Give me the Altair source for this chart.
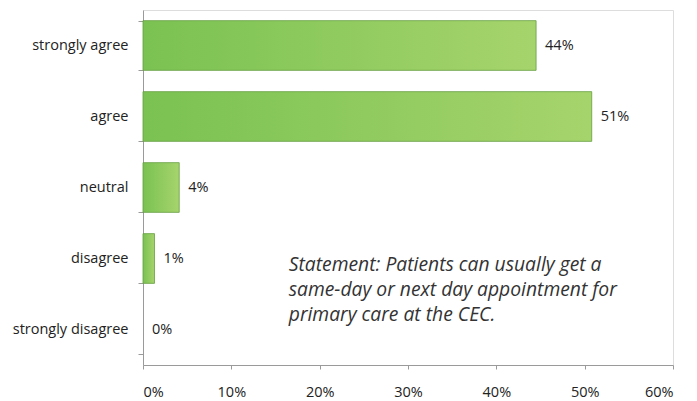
import altair as alt
import pandas as pd

categories = ["strongly agree", "agree", "neutral", "disagree", "strongly disagree"]
values = [44.5, 50.8, 4.1, 1.3, 0.0]
labels = ["44%", "51%", "4%", "1%", "0%"]
tick_values = [0, 10, 20, 30, 40, 50, 60]
statement = ["Statement: Patients can usually get a",
             "same-day or next day appointment for",
             "primary care at the CEC."]

df = pd.DataFrame({"cat": categories, "val": values, "lab": labels})
note_df = pd.DataFrame({"x": [16.5], "t": [statement]})

FONT = "Open Sans"

x_scale = alt.Scale(domain=[0, 60], nice=False, zero=True)
y_scale = alt.Scale(domain=categories, paddingInner=0.3, paddingOuter=0.15)

grad = alt.Gradient(
    gradient="linear",
    x1=0, x2=1, y1=0, y2=0,
    stops=[alt.GradientStop(color="#7ac252", offset=0),
           alt.GradientStop(color="#a6d46c", offset=1)],
)

base = alt.Chart(df)

bars = base.mark_bar(color=grad, stroke="#639e3e", strokeWidth=0.8).encode(
    x=alt.X("val:Q", scale=x_scale,
            axis=alt.Axis(values=tick_values, labelExpr="datum.value + '%'",
                          title=None, grid=False, domainColor="#9a9a9a",
                          tickColor="#9a9a9a", tickSize=4, labelPadding=16,
                          labelFont=FONT, labelFontSize=14.5, labelColor="#222222")),
    y=alt.Y("cat:N", scale=y_scale, sort=categories,
            axis=alt.Axis(title=None, grid=False, domainColor="#9a9a9a",
                          tickColor="#9a9a9a", tickSize=5, tickBand="extent",
                          labelPadding=10, labelFont=FONT, labelFontSize=14.5,
                          labelColor="#222222")),
).transform_filter(alt.datum.val > 0)

text = base.mark_text(align="left", dx=9, font=FONT, fontSize=14.5, color="#222222").encode(
    x=alt.X("val:Q", scale=x_scale),
    y=alt.Y("cat:N", scale=y_scale, sort=categories),
    text="lab:N",
)

note = alt.Chart(note_df).mark_text(
    align="left", baseline="alphabetic", font=FONT, fontSize=19.3,
    fontStyle="italic", color="#333333", lineHeight=25,
).encode(
    x=alt.X("x:Q", scale=x_scale),
    y=alt.value(261),
    text="t",
)

chart = alt.layer(bars, text, note).properties(
    width=530, height=355,
    padding={"left": 135, "top": 2, "right": 10, "bottom": 34},
    autosize=alt.AutoSizeParams(type="none"),
).configure_view(stroke=None).configure(background="white")

chart.save("out.html", embed_options={"renderer": "svg", "actions": False})
